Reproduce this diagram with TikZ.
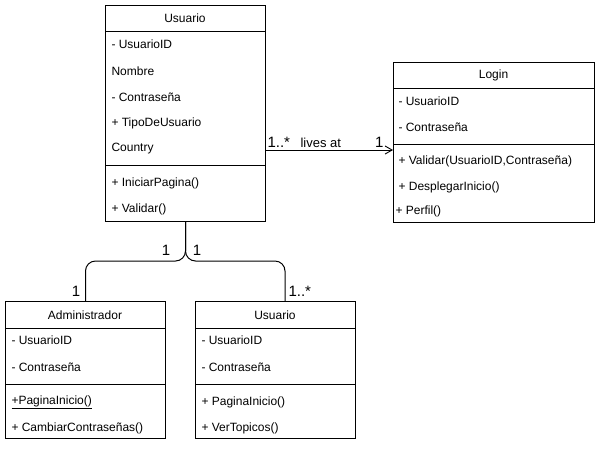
\documentclass[tikz,border=0pt]{standalone}
\usepackage{fontspec}
\setmainfont{Liberation Sans}
\usetikzlibrary{positioning, arrows.meta}

\begin{document}
\begin{tikzpicture}[x=1pt, y=-1pt, line width=1pt,
    caja/.style={draw, anchor=north west, inner sep=0pt, minimum width=160pt},
    campo/.style={anchor=west, inner sep=0pt, font=\fontsize{12}{14}\selectfont},
    titulo/.style={inner sep=0pt, font=\fontsize{12}{14}\selectfont},
    mult/.style={inner sep=0pt, font=\fontsize{15}{17}\selectfont},
    etiq/.style={inner sep=0pt, font=\fontsize{13}{15}\selectfont}]
      \useasboundingbox (0,0) rectangle (601,448);
      % clase Usuario
      \node[caja, minimum height=216pt] (usuario) at (105,5) {};
      \node[titulo] (usuarioT) at (185,18) {Usuario};
      \draw (105,31) -- (265,31);
      \node[campo] (uID) at (111,44) {- UsuarioID};
      \node[campo] (uNombre) at (111,71) {Nombre};
      \node[campo] (uPass) at (111,97) {- Contraseña};
      \node[campo] (uTipo) at (111,123) {+ TipoDeUsuario};
      \node[campo] (uCountry) at (111,149) {Country};
      \draw (105,165) -- (265,165);
      \node[campo] (uIniciar) at (111,183) {+ IniciarPagina()};
      \node[campo] (uValidar) at (111,209) {+ Validar()};
      % clase Login
      \node[caja, minimum width=201pt, minimum height=160pt] (login) at (393,62) {};
      \node[titulo] (loginT) at (493.5,75) {Login};
      \draw (393,88) -- (594,88);
      \node[campo] (lID) at (398,101) {- UsuarioID};
      \node[campo] (lPass) at (398,127) {- Contraseña};
      \draw (393,144) -- (594,144);
      \node[campo] (lValidar) at (398,161) {+ Validar(UsuarioID,Contraseña)};
      \node[campo] (lDesplegar) at (398,187) {+ DesplegarInicio()};
      \node[campo] (lPerfil) at (395,211) {+ Perfil()};
      % clase Administrador
      \node[caja, minimum height=137pt] (admin) at (5,301) {};
      \node[titulo] (adminT) at (85,315) {Administrador};
      \draw (5,328) -- (165,328);
      \node[campo] (aID) at (11,340) {- UsuarioID};
      \node[campo] (aPass) at (11,367) {- Contraseña};
      \draw (5,384) -- (165,384);
      \node[campo] (aInicio) at (11,402) {\underline{+PaginaInicio()}};
      \node[campo] (aCambiar) at (11,428) {+ CambiarContraseñas()};
      % clase Usuario (abajo)
      \node[caja, minimum height=137pt] (usuario2) at (195,301) {};
      \node[titulo] (usuario2T) at (275,315) {Usuario};
      \draw (195,328) -- (355,328);
      \node[campo] (vID) at (201,340) {- UsuarioID};
      \node[campo] (vPass) at (201,367) {- Contraseña};
      \draw (195,384) -- (355,384);
      \node[campo] (vInicio) at (201,402) {+ PaginaInicio()};
      \node[campo] (vTopicos) at (201,428) {+ VerTopicos()};
      % relaciones
      \coordinate (vive) at (0,150);
      \coordinate (brazo) at (0,261);
      \coordinate (bajada) at (285,301);
      \draw[-{Straight Barb[length=7pt, width=8pt, line width=0.9pt]}] (usuario.east |- vive) -- (login.west |- vive);
      \node[mult, anchor=south west] (m1) at (267,148) {1..*};
      \node[etiq, anchor=south west] (vivetxt) at (300,148) {lives at};
      \node[mult, anchor=south east] (m2) at (384,148) {1};
      \draw[rounded corners=10pt] (usuario.south) |- (admin.north |- brazo) -- (admin.north);
      \draw[rounded corners=10pt] (usuario.south) |- (bajada |- brazo) -- (bajada);
      \node[mult] (m3) at (166,250) {1};
      \node[mult] (m4) at (197,250) {1};
      \node[mult] (m5) at (76,291) {1};
      \node[mult, anchor=west] (m6) at (288,291) {1..*};
\end{tikzpicture}
\end{document}
